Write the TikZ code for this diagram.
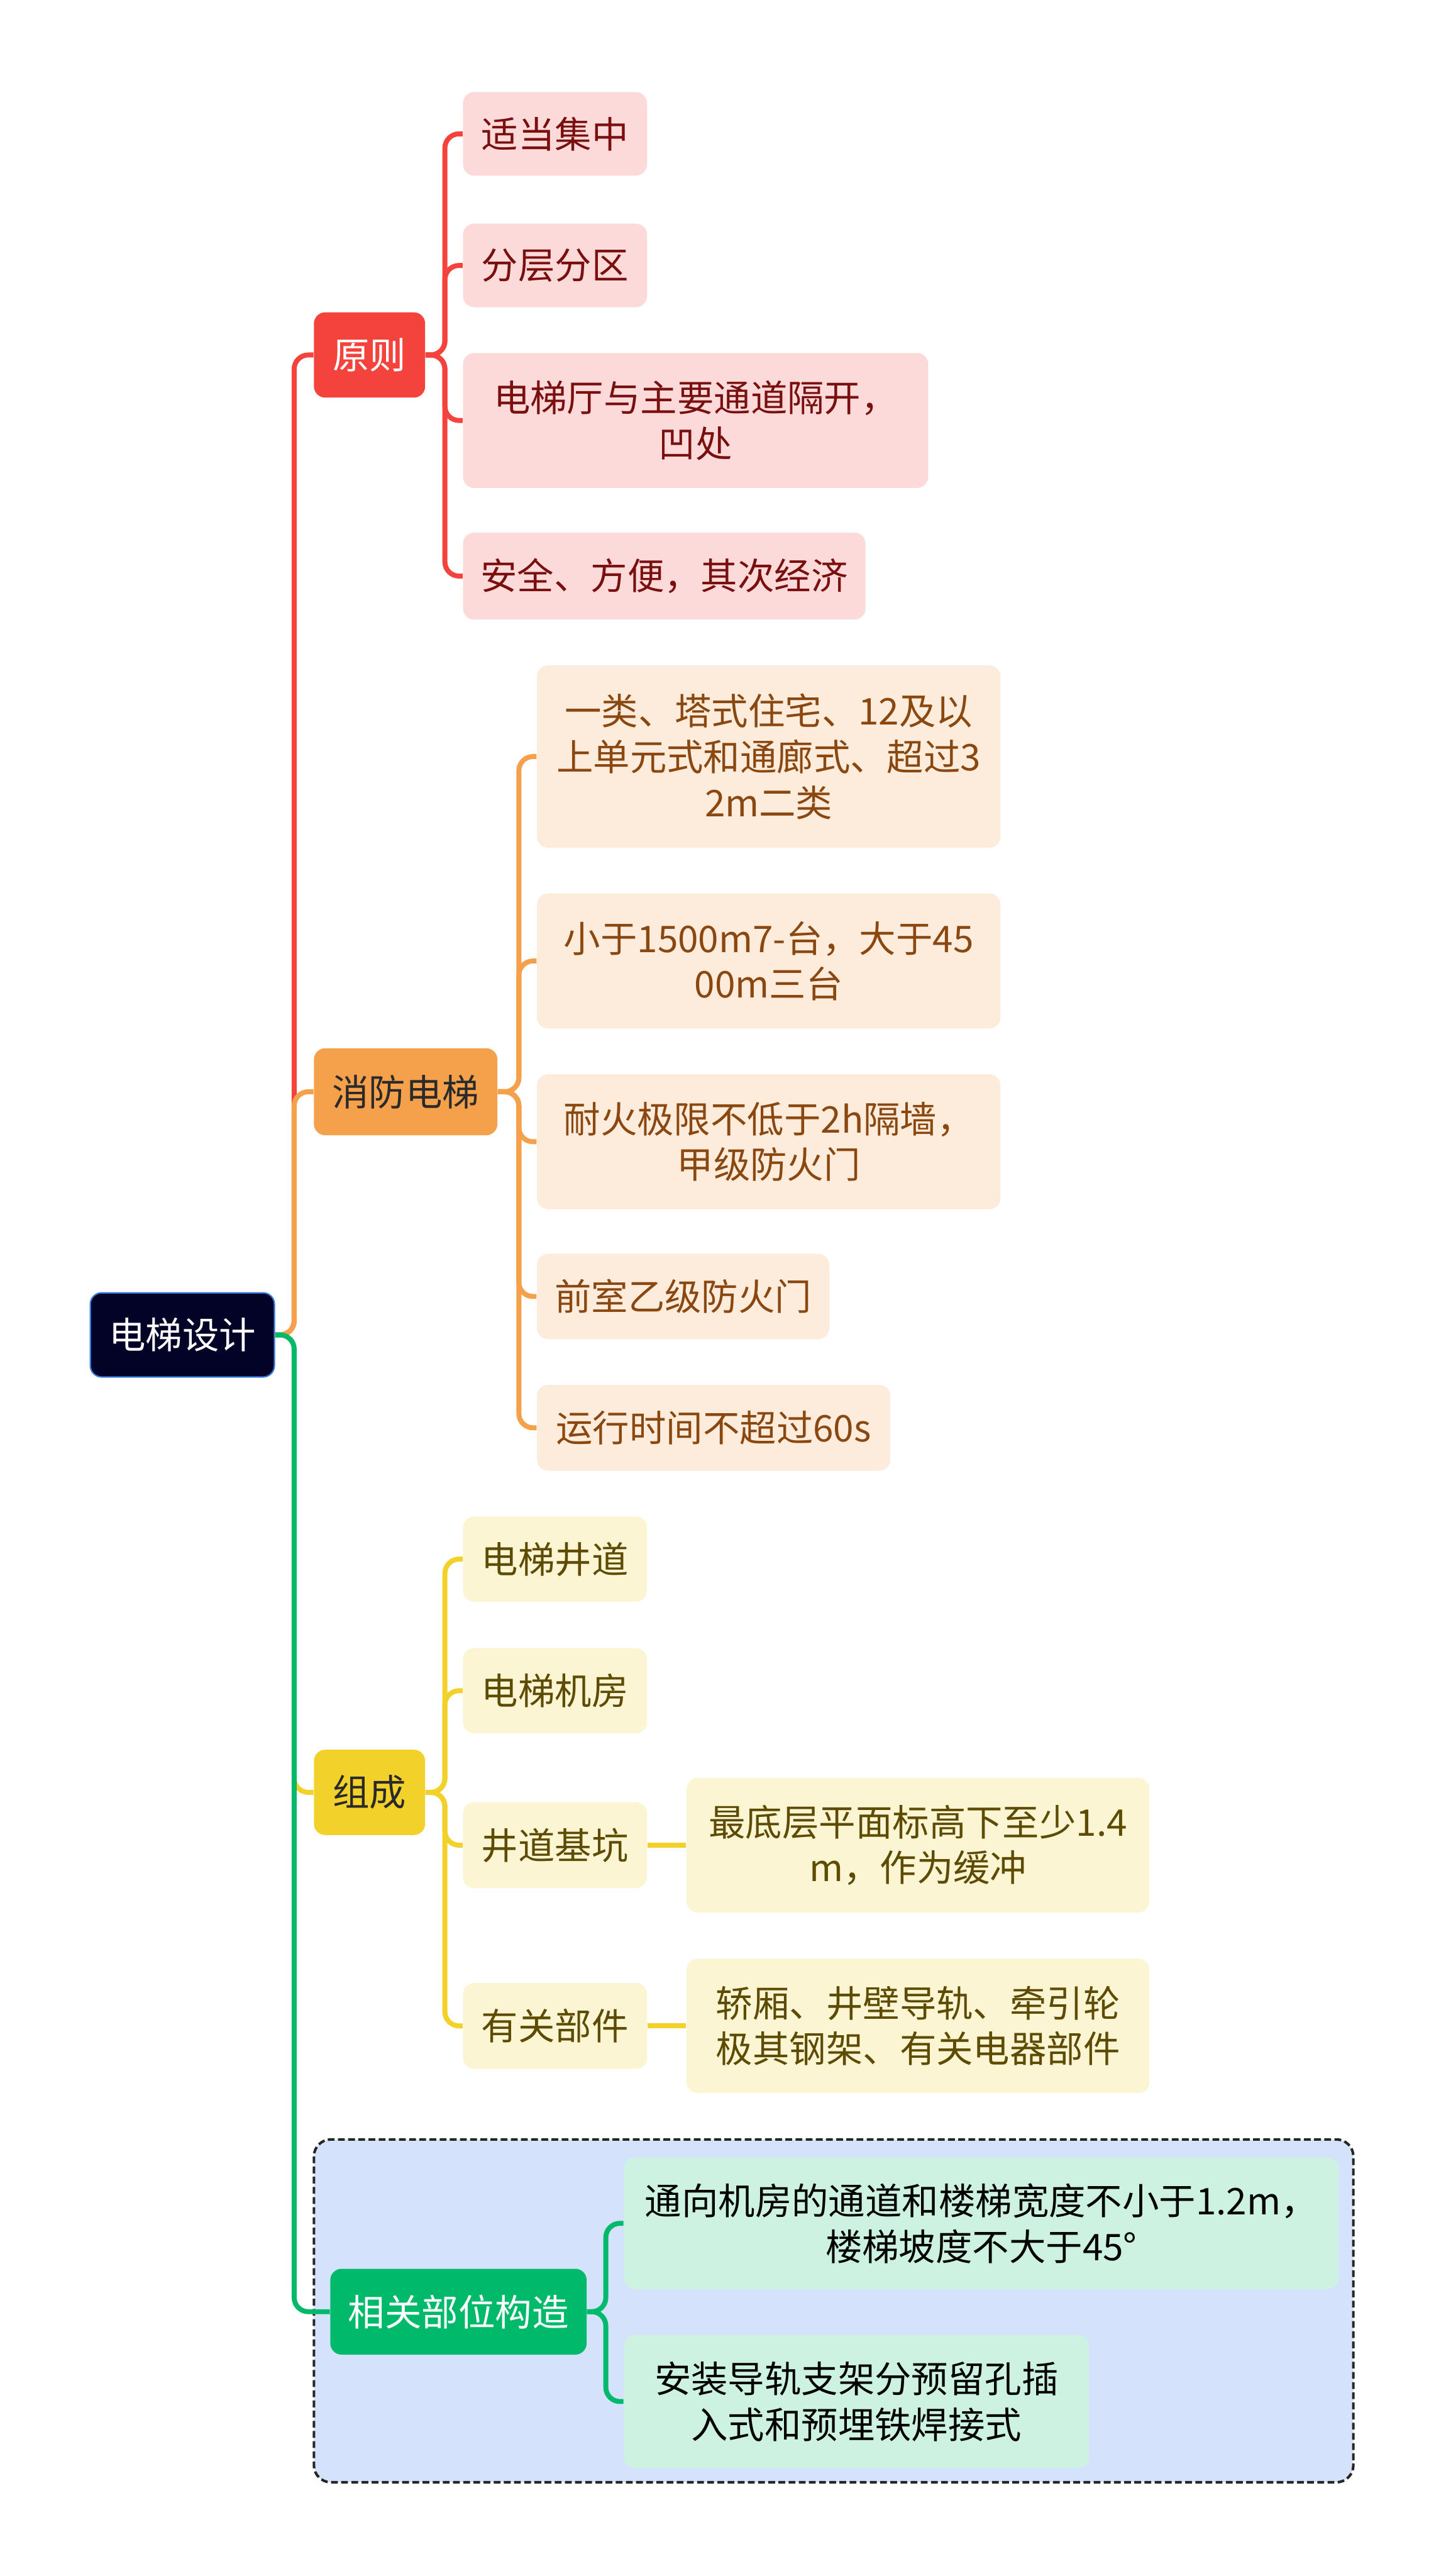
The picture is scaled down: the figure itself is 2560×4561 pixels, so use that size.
\documentclass[tikz,border=0pt]{standalone}
\usepackage{fontspec}
\setmainfont{Noto Sans CJK SC}
\usetikzlibrary{positioning}
\definecolor{rootfill}{HTML}{020326}
\definecolor{rootdraw}{HTML}{3A78D8}
\definecolor{cred}{HTML}{F4433C}
\definecolor{credl}{HTML}{FDDADA}
\definecolor{credt}{HTML}{7A0F0F}
\definecolor{cora}{HTML}{F5A04B}
\definecolor{coral}{HTML}{FDEBDB}
\definecolor{corat}{HTML}{8A4710}
\definecolor{cyel}{HTML}{F2D22A}
\definecolor{cyell}{HTML}{FBF5D3}
\definecolor{cyelt}{HTML}{5C4B00}
\definecolor{cgrn}{HTML}{00B96B}
\definecolor{cgrnl}{HTML}{CDF2E2}
\definecolor{cblue}{HTML}{D4E3FB}
\definecolor{cdark}{HTML}{2A2A2A}
\tikzset{
  base/.style={rounded corners=0.2cm, inner sep=0pt, align=center, font=\fontsize{18.5pt}{23pt}\selectfont},
  rootbox/.style={base, fill=rootfill, draw=rootdraw, line width=0.7pt, text=white},
  redmain/.style={base, fill=cred, text=white},
  redsub/.style={base, fill=credl, text=credt},
  oramain/.style={base, fill=cora, text=cdark},
  orasub/.style={base, fill=coral, text=corat},
  yelmain/.style={base, fill=cyel, text=cdark},
  yelsub/.style={base, fill=cyell, text=cyelt},
  grnmain/.style={base, fill=cgrn, text=white},
  grnsub/.style={base, fill=cgrnl, text=black},
  conn/.style={line width=2.5pt, rounded corners=0.25cm},
}
\newcommand\mybox[7]{\node[#6, minimum width={(#4-#2)*0.01cm}, minimum height={(#5-#3)*0.01cm}] (#1) at ({(#2+#4)/2},{(#3+#5)/2}) {#7};}
\begin{document}
\begin{tikzpicture}[x=0.01cm, y=-0.01cm]
\useasboundingbox[fill=white] (0,0) rectangle (2560,4561);
% dashed frame
\draw[fill=cblue, draw=black!85, line width=1.3pt, dash pattern=on 0.12cm off 0.06cm, rounded corners=0.3cm] (556,3788) rectangle (2397,4395);
% nodes
\mybox{root}{160}{2289}{486}{2438}{rootbox}{电梯设计}
\mybox{yz}{556}{553}{753}{704}{redmain}{原则}
\mybox{xf}{556}{1856}{881}{2010}{oramain}{消防电梯}
\mybox{zc}{556}{3098}{753}{3249}{yelmain}{组成}
\mybox{xg}{585}{4017}{1039}{4169}{grnmain}{相关部位构造}
\mybox{r1}{820}{163}{1146}{311}{redsub}{适当集中}
\mybox{r2}{820}{396}{1146}{544}{redsub}{分层分区}
\mybox{r3}{820}{625}{1644}{864}{redsub}{电梯厅与主要通道隔开，\\凹处}
\mybox{r4}{820}{943}{1533}{1097}{redsub}{安全、方便，其次经济}
\mybox{o1}{951}{1178}{1772}{1501}{orasub}{一类、塔式住宅、12及以\\上单元式和通廊式、超过3\\2m二类}
\mybox{o2}{951}{1582}{1772}{1821}{orasub}{小于1500m7-台，大于45\\00m三台}
\mybox{o3}{951}{1902}{1772}{2141}{orasub}{耐火极限不低于2h隔墙，\\甲级防火门}
\mybox{o4}{951}{2220}{1469}{2371}{orasub}{前室乙级防火门}
\mybox{o5}{951}{2452}{1577}{2604}{orasub}{运行时间不超过60s}
\mybox{y1}{820}{2685}{1146}{2836}{yelsub}{电梯井道}
\mybox{y2}{820}{2918}{1146}{3069}{yelsub}{电梯机房}
\mybox{y3}{820}{3191}{1146}{3343}{yelsub}{井道基坑}
\mybox{y4}{820}{3511}{1146}{3663}{yelsub}{有关部件}
\mybox{y3a}{1216}{3148}{2036}{3386}{yelsub}{最底层平面标高下至少1.4\\m，作为缓冲}
\mybox{y4a}{1216}{3468}{2036}{3706}{yelsub}{轿厢、井壁导轨、牵引轮\\极其钢架、有关电器部件}
\mybox{g1}{1105}{3820}{2371}{4053}{grnsub}{通向机房的通道和楼梯宽度不小于1.2m，\\楼梯坡度不大于45°}
\mybox{g2}{1105}{4134}{1929}{4370}{grnsub}{安装导轨支架分预留孔插\\入式和预埋铁焊接式}
% connector rails
\coordinate (v0) at (521,0);
\coordinate (vr) at (788,0);
\coordinate (vo) at (919,0);
\coordinate (vg) at (1073,0);
% main connectors
\draw[conn, cred] (root.east) -- (root.east -| v0) |- (yz.west);
\draw[conn, cora] (root.east) -- (root.east -| v0) |- (xf.west);
\draw[conn, cyel] (root.east) -- (root.east -| v0) |- (zc.west);
\draw[conn, cgrn] (root.east) -- (root.east -| v0) |- (xg.west);
% red sub
\foreach \c in {r1,r2,r3,r4}{\draw[conn, cred] (yz.east) -- (yz.east -| vr) |- (\c.west);}
% orange sub
\foreach \c in {o1,o2,o3,o4,o5}{\draw[conn, cora] (xf.east) -- (xf.east -| vo) |- (\c.west);}
% yellow sub
\foreach \c in {y1,y2,y3,y4}{\draw[conn, cyel] (zc.east) -- (zc.east -| vr) |- (\c.west);}
\draw[conn, cyel] (y3.east) -- (y3a.west |- y3.east);
\draw[conn, cyel] (y4.east) -- (y4a.west |- y4.east);
% green sub
\foreach \c in {g1,g2}{\draw[conn, cgrn] (xg.east) -- (xg.east -| vg) |- (\c.west);}
\end{tikzpicture}
\end{document}
